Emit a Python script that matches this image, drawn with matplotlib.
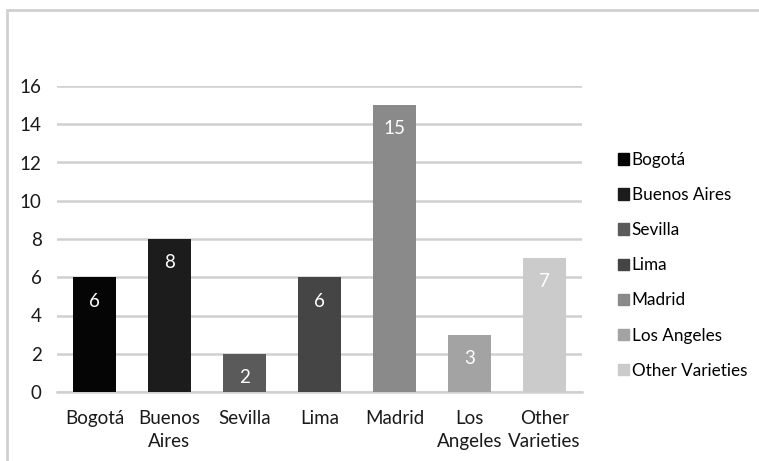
import matplotlib.pyplot as plt
from matplotlib.patches import Rectangle

plt.rcParams['font.family'] = ['Lato', 'DejaVu Sans']

cities = ['Bogotá', 'Buenos Aires', 'Sevilla', 'Lima', 'Madrid', 'Los Angeles', 'Other Varieties']
tick_labels = ['Bogotá', 'Buenos\nAires', 'Sevilla', 'Lima', 'Madrid', 'Los\nAngeles', 'Other\nVarieties']
counts = [6, 8, 2, 6, 15, 3, 7]
shades = ['#050505', '#1c1c1c', '#5a5a5a', '#454545', '#8a8a8a', '#a3a3a3', '#cbcbcb']

fig = plt.figure(figsize=(7.59, 4.61), dpi=100)
ax = fig.add_axes([57 / 759, 1 - 392 / 461, 525 / 759, 306 / 461])

# outer frame (only top and left edges visible)
fig.patches.append(Rectangle((7 / 759, -0.1), 1.2, 1 - 10 / 461 + 0.1,
                             transform=fig.transFigure, fill=False,
                             edgecolor='#d0d0d0', linewidth=2))

x = range(len(cities))
bars = ax.bar(x, counts, width=0.58, color=shades, label=cities, zorder=3)

for i, v in enumerate(counts):
    ax.text(i, v - 0.8, str(v), ha='center', va='top', color='white', fontsize=13.5, zorder=4)

ax.set_ylim(0, 16)
ax.set_xlim(-0.5, len(cities) - 0.5)
ax.set_yticks(range(0, 17, 2))
ax.set_xticks(list(x))
ax.set_xticklabels(tick_labels, fontsize=13.5, color='#1a1a1a', linespacing=1.4)
ax.tick_params(axis='y', labelsize=13.5, colors='#1a1a1a', length=0, pad=11)
ax.tick_params(axis='x', length=0, pad=13)
ax.grid(axis='y', color='#d0d0d0', linewidth=1.8, zorder=0)
for s in ['top', 'right', 'left']:
    ax.spines[s].set_visible(False)
ax.spines['bottom'].set_color('#d0d0d0')
ax.spines['bottom'].set_linewidth(1.8)

handles = [Rectangle((0, 0), 1, 1, color=c) for c in shades]
fig.legend(handles, cities, loc='upper left', bbox_to_anchor=(611 / 759, 1 - 145 / 461),
           frameon=False, fontsize=12.3, handlelength=0.65, handleheight=0.65,
           handletextpad=0.15, labelspacing=1.12, borderaxespad=0)

fig.savefig('out.png', dpi=100)
